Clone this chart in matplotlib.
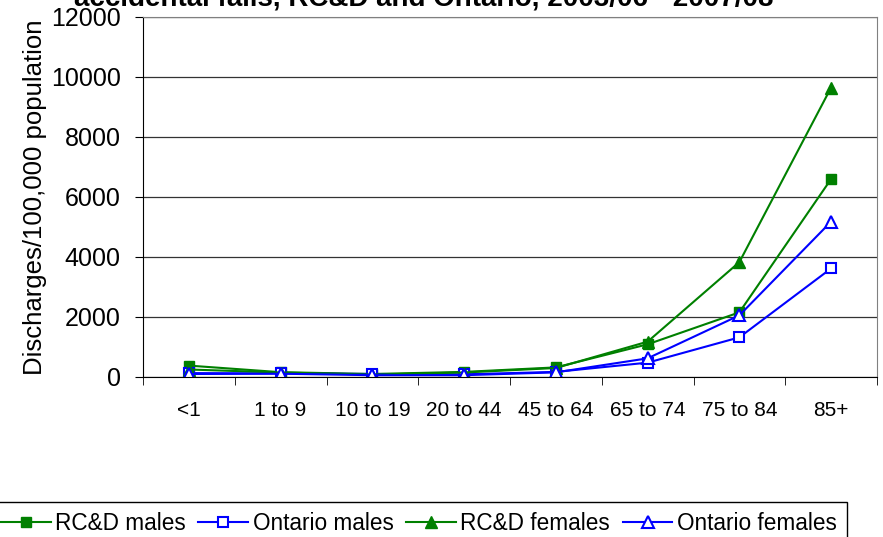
import matplotlib
matplotlib.use('Agg')
import matplotlib.pyplot as plt
from matplotlib import rcParams
import numpy as np

rcParams['font.family'] = ['Liberation Sans', 'DejaVu Sans']

# discharge rates per 100,000 by age group
age_groups = ['<1', '1 to 9', '10 to 19', '20 to 44', '45 to 64', '65 to 74', '75 to 84', '85+']
rcd_males = [380, 160, 100, 170, 320, 1090, 2155, 6600]
ont_males = [130, 120, 100, 90, 170, 478, 1322, 3620]
rcd_females = [250, 150, 80, 150, 300, 1178, 3830, 9650]
ont_females = [100, 110, 60, 60, 155, 622, 2055, 5180]

title = 'accidental falls, RC&D and Ontario, 2003/06 - 2007/08'

green = '#008000'
blue = '#0000FF'

fig = plt.figure(figsize=(8.83, 5.37), dpi=100)
ax = fig.add_axes([143/883, 1-377/537, (877-143)/883, 360/537])

x = np.arange(len(age_groups))
ax.plot(x, rcd_males, color=green, lw=1.5, marker='s', ms=7, mfc=green, mec=green, label='RC&D males')
ax.plot(x, ont_males, color=blue, lw=1.5, marker='s', ms=7, mfc='white', mec=blue, mew=1.5, label='Ontario males')
ax.plot(x, rcd_females, color=green, lw=1.5, marker='^', ms=8, mfc=green, mec=green, label='RC&D females')
ax.plot(x, ont_females, color=blue, lw=1.5, marker='^', ms=8, mfc='white', mec=blue, mew=1.5, label='Ontario females')

ax.set_xlim(-0.5, len(age_groups) - 0.5)
ax.set_ylim(0, 12000)
ax.set_yticks(range(0, 12001, 2000))
ax.tick_params(axis='y', labelsize=18, length=6, pad=10, direction='out')

ax.set_xticks(x)
ax.set_xticklabels(age_groups)
ax.set_xticks(np.arange(-0.5, len(age_groups), 1), minor=True)
ax.tick_params(axis='x', which='major', length=0, labelsize=15, pad=17)
ax.tick_params(axis='x', which='minor', length=6, direction='out')

ax.yaxis.grid(True, color='#333333', lw=0.9)
ax.set_axisbelow(True)
for side in ['top', 'right']:
    ax.spines[side].set_color('#808080')
ax.spines['left'].set_color('black')
ax.spines['bottom'].set_color('black')

ax.set_ylabel('Discharges/100,000 population', fontsize=18.5, labelpad=3)

fig.text(424/883, 1-5/537, title, fontsize=20, fontweight='bold', ha='center', va='baseline')

leg = fig.legend(loc='upper right', bbox_to_anchor=(847/883, 1-502/537), ncol=4,
                 fontsize=16.3, frameon=True, fancybox=False, framealpha=1,
                 edgecolor='black', handlelength=2.2, handletextpad=0.2,
                 columnspacing=0.55, borderaxespad=0, borderpad=0.45)
leg.get_frame().set_linewidth(1)

plt.savefig('out.png', dpi=100)
